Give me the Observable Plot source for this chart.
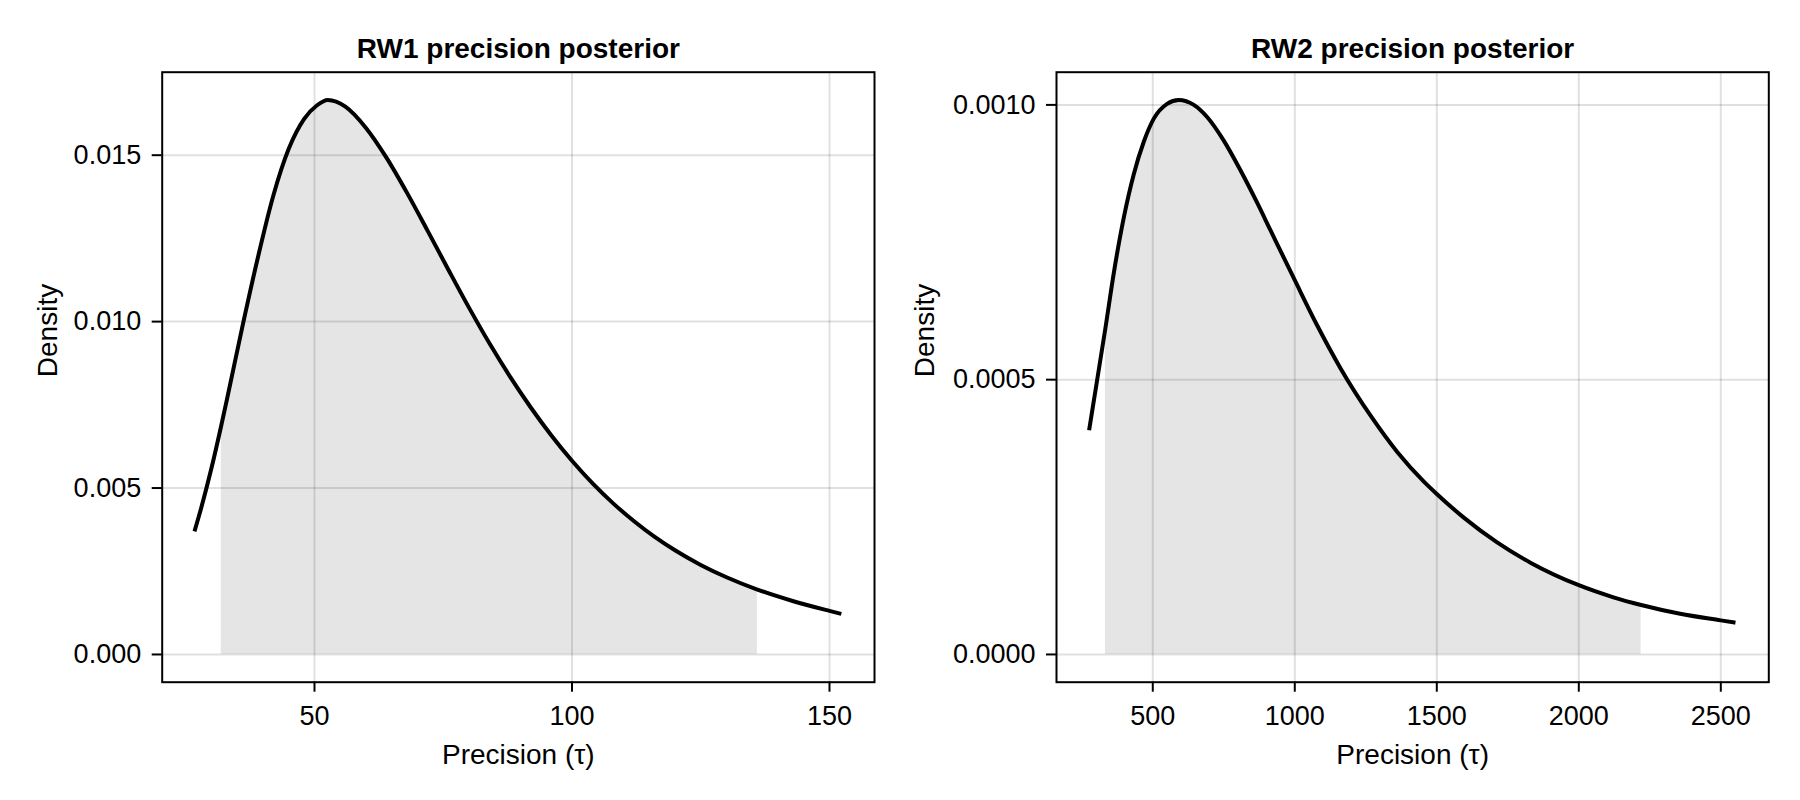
<!DOCTYPE html>
<html>
<head>
<meta charset="utf-8">
<script src="https://cdn.jsdelivr.net/npm/d3@7"></script>
<script src="https://cdn.jsdelivr.net/npm/@observablehq/plot@0.6"></script>
<style>
  html, body { margin: 0; padding: 0; background: #fff; }
  #wrap { position: relative; width: 1800px; height: 800px; overflow: hidden; }
  #left, #right { position: absolute; top: 0; width: 900px; height: 800px; }
  #left { left: 0; }
  #right { left: 900px; }
</style>
</head>
<body>
<div id="wrap"><div id="left"></div><div id="right"></div></div>
<script>
// ---- RW1 precision posterior ----
const rw1Tau = [26.7, 28.0, 30.0, 31.9, 33.0, 36.0, 39.0, 42.0, 45.0, 48.0, 50.5, 52.6, 56.0, 60.0, 64.0, 68.0, 72.0, 76.0, 80.0, 84.0, 88.0, 92.0, 96.0, 100, 104, 108, 112, 116, 120, 125, 130, 136, 143, 150, 152.3];
const rw1Density = [0.00370, 0.00440, 0.00560, 0.00688, 0.00766, 0.00985, 0.01192, 0.01378, 0.01519, 0.01609, 0.01650, 0.01666, 0.01646, 0.01582, 0.01492, 0.01386, 0.01272, 0.01156, 0.01042, 0.00934, 0.00834, 0.00742, 0.00658, 0.00582, 0.00514, 0.00454, 0.00401, 0.00354, 0.00313, 0.00269, 0.00232, 0.00195, 0.00160, 0.00131, 0.00122];
const rw1Interval = [31.9, 136.0];
const rw1XTicks = [50, 100, 150];
const rw1YTicks = [0, 0.005, 0.010, 0.015];

// ---- RW2 precision posterior ----
const rw2Tau = [275.8, 304.0, 333.3, 362.7, 397.9, 433.1, 468.3, 503.5, 550.5, 591.5, 644.4, 691.3, 750.0, 808.7, 867.4, 914.3, 1000, 1078.6, 1160.8, 1267.6, 1361.5, 1455.4, 1500, 1595.1, 1712.4, 1829.8, 2000, 2122, 2219.5, 2356.8, 2500, 2551.6];
const rw2Density = [0.000408, 0.000499, 0.000594, 0.000694, 0.000795, 0.000874, 0.000933, 0.000975, 0.001002, 0.001009, 0.001000, 0.000978, 0.000935, 0.000881, 0.000822, 0.000772, 0.000681, 0.000599, 0.000521, 0.000434, 0.000368, 0.000314, 0.000292, 0.000249, 0.000204, 0.000167, 0.000126, 0.000104, 0.0000900, 0.0000740, 0.0000620, 0.0000578];
const rw2Interval = [333.3, 2219.5];
const rw2XTicks = [500, 1000, 1500, 2000, 2500];
const rw2YTicks = [0, 0.0005, 0.0010];

const titles = ["RW1 precision posterior", "RW2 precision posterior"];
const xLabel = "Precision (τ)";
const yLabel = "Density";

function panel(o) {
  const pts = o.tau.map((t, i) => ({t, d: o.dens[i]}));
  const shade = pts.filter(p => p.t >= o.interval[0] && p.t <= o.interval[1]);
  return Plot.plot({
    width: 900,
    height: 800,
    marginTop: 71.7,
    marginBottom: 118.3,
    marginLeft: o.marginLeft,
    marginRight: o.marginRight,
    style: {
      fontFamily: "'Liberation Sans', Arial, Helvetica, sans-serif",
      fontSize: "27px",
      color: "black",
      background: "white",
      overflow: "visible"
    },
    x: {domain: o.xDomain, label: null},
    y: {domain: o.yDomain, label: null},
    marks: [
      Plot.areaY(shade, {x: "t", y: "d", fill: "black", fillOpacity: 0.1, curve: "monotone-x"}),
      Plot.gridX(o.xTicks, {stroke: "black", strokeOpacity: 0.12, strokeWidth: 2}),
      Plot.gridY(o.yTicks, {stroke: "black", strokeOpacity: 0.12, strokeWidth: 2}),
      Plot.line(pts, {x: "t", y: "d", stroke: "black", strokeWidth: 4, curve: "monotone-x", strokeLinecap: "butt"}),
      Plot.axisX(o.xTicks, {tickSize: 10, tickPadding: 14, strokeWidth: 2, label: null, tickFormat: d => String(d)}),
      Plot.axisY(o.yTicks, {tickSize: 10, tickPadding: 11, strokeWidth: 2, label: null, tickFormat: d3.format(o.yFmt)}),
      Plot.frame({stroke: "black", strokeWidth: 2}),
      Plot.text([o.title], {text: d => d, frameAnchor: "top", lineAnchor: "middle", dy: -23, fontSize: 28, fontWeight: "bold"}),
      Plot.text([xLabel], {text: d => d, frameAnchor: "bottom", lineAnchor: "middle", dy: 73, fontSize: 28}),
      Plot.text([yLabel], {text: d => d, frameAnchor: "left", lineAnchor: "middle", rotate: -90, dx: o.labelDx, fontSize: 28})
    ]
  });
}

document.getElementById("left").appendChild(panel({
  tau: rw1Tau, dens: rw1Density, interval: rw1Interval,
  xTicks: rw1XTicks, yTicks: rw1YTicks, yFmt: ".3f",
  xDomain: [20.43, 158.74], yDomain: [-0.000833, 0.017493],
  title: titles[0], marginLeft: 161.7, marginRight: 26, labelDx: -114
}));

document.getElementById("right").appendChild(panel({
  tau: rw2Tau, dens: rw2Density, interval: rw2Interval,
  xTicks: rw2XTicks, yTicks: rw2YTicks, yFmt: ".4f",
  xDomain: [161, 2669], yDomain: [-0.0000505, 0.0010595],
  title: titles[1], marginLeft: 156, marginRight: 31.7, labelDx: -131
}));
</script>
</body>
</html>
